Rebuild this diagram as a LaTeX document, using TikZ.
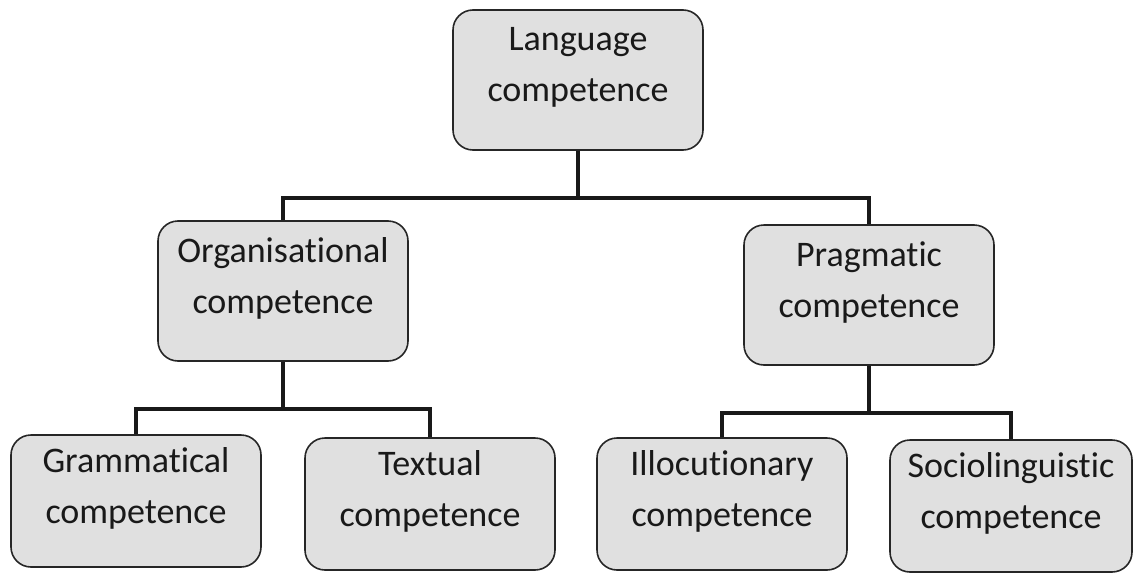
\documentclass[tikz,border=0pt]{standalone}
\usepackage{fontspec}
\setmainfont{Carlito}[Ligatures=NoCommon]
\usetikzlibrary{positioning}
\tikzset{
  compbox/.style={draw=black!85, line width=1.6pt, rounded corners=20pt,
    fill=black!12, align=center, inner sep=0pt,
    minimum width=250pt, minimum height=140pt, text depth=31pt,
    font=\fontsize{36}{51}\selectfont, text=black!90},
  leafbox/.style={compbox, minimum height=132pt},
  link/.style={line width=4.5pt, draw=black!90}
}
\begin{document}
\begin{tikzpicture}[x=1pt,y=-1pt]
\useasboundingbox (0,0) rectangle (1133,573);
\node[compbox] (lang) at (578,80) {Language\\competence};
\node[compbox] (org) at (283,291) {Organisational\\competence};
\node[compbox] (prag) at (869,295) {Pragmatic\\competence};
\node[leafbox] (gram) at (136,501) {Grammatical\\competence};
\node[leafbox] (text) at (430,504) {Textual\\competence};
\node[leafbox] (illoc) at (722,504) {Illocutionary\\competence};
\node[leafbox, minimum width=242pt] (socio) at (1011,506) {Sociolinguistic\\competence};
\coordinate (lang-bar) at (578,198);
\coordinate (org-bar) at (283,409);
\coordinate (prag-bar) at (869,413);
\draw[link] (lang.south) -- (lang-bar);
\draw[link] (org.north) |- (lang-bar) -| (prag.north);
\draw[link] (org.south) -- (org-bar);
\draw[link] (gram.north) |- (org-bar) -| (text.north);
\draw[link] (prag.south) -- (prag-bar);
\draw[link] (illoc.north) |- (prag-bar) -| (socio.north);
\end{tikzpicture}
\end{document}
